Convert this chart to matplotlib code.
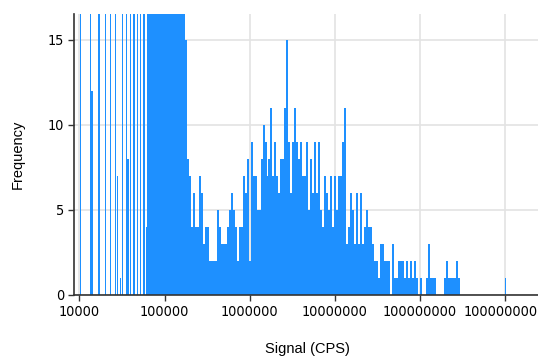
import numpy as np
import matplotlib
matplotlib.use('Agg')
import matplotlib.pyplot as plt
from matplotlib import font_manager

# sparse low-signal lines (CPS) and their counts; anything above ~16.5 runs off the top
line_cps = [10300, 13500, 14000, 17000, 20300, 23300, 26700, 27800, 30500, 31900,
            35900, 37200, 40000, 43800, 47900, 52500, 57400, 61100, 1020000000]
line_counts = [24, 31, 12, 27, 35, 22, 40, 7, 1, 29, 33, 8, 38, 45, 41, 52, 48, 4, 1]

# dense part: log-spaced bins, first edge at 10^4.79, each 0.0235 decade wide
bin_start = 4.79
bin_step = 0.0235
counts = [58, 66, 74, 81, 89, 95, 98, 97, 93, 86, 77, 66, 55, 45, 36, 29, 24, 20, 17,
          15, 8, 7, 4, 6, 4, 4, 7, 6, 3, 4, 4, 2, 2, 2, 2, 5, 4, 3, 3, 3,
          4, 5, 6, 5, 4, 2, 4, 4, 7, 6, 8, 2, 9, 7, 7, 5, 5, 8, 10, 9,
          7, 8, 11, 7, 9, 7, 6, 8, 8, 11, 15, 9, 6, 9, 11, 9, 8, 9, 7, 7,
          9, 5, 8, 6, 9, 6, 9, 5, 4, 7, 6, 5, 7, 4, 7, 5, 7, 7, 9, 11,
          3, 4, 6, 5, 3, 6, 3, 6, 3, 4, 5, 4, 4, 3, 2, 2, 1, 3, 3, 2,
          2, 2, 0, 3, 1, 1, 2, 2, 2, 1, 2, 1, 2, 1, 2, 1, 0, 1, 0, 0,
          1, 3, 1, 1, 1, 0, 0, 0, 0, 1, 2, 1, 1, 1, 1, 2, 1]

xticks = [1e4, 1e5, 1e6, 1e7, 1e8, 1e9]
xtick_labels = ['10000', '100000', '1000000', '10000000', '100000000', '1000000000']
yticks = [0, 5, 10, 15]

# tick labels in the reference use a tall narrow face; look for a condensed one
tick_prop = None
for key in ['LiberationSansNarrow-Regular', 'DejaVuSansCondensed.ttf',
            'RobotoCondensed-Regular', 'OpenSans_Condensed-Regular', 'NotoSans-Condensed']:
    for f in font_manager.fontManager.ttflist:
        if key in f.fname:
            tick_prop = font_manager.FontProperties(fname=f.fname, size=10.4)
            break
    if tick_prop is not None:
        break
if tick_prop is None:
    tick_prop = font_manager.FontProperties(family='Liberation Sans', size=10)

blue = '#1e90ff'

fig = plt.figure(figsize=(5.38, 3.57), dpi=100)
ax = fig.add_axes([74/538, 62/357, 466/538, 281/357])

edges = 10 ** (bin_start + bin_step * np.arange(len(counts) + 1))
ax.stairs(counts, edges, fill=True, color=blue, lw=0)

lc = np.array(line_cps, dtype=float)
ax.bar(lc, line_counts, width=lc * (10**0.014 - 1), color=blue, lw=0)

ax.set_xscale('log')
ax.set_xlim(10**3.9353, 10**9.4176)
ax.set_ylim(0, 16.5)

ax.set_xticks(xticks)
ax.set_xticklabels(xtick_labels, fontproperties=tick_prop)
ax.xaxis.set_minor_locator(matplotlib.ticker.NullLocator())
ax.set_yticks(yticks)
ax.set_yticklabels([str(v) for v in yticks], fontproperties=tick_prop)

ax.tick_params(axis='both', direction='out', length=4, width=1, color='#333333', pad=3)
ax.grid(color='#e3e3e3', lw=1.2)
ax.set_axisbelow(True)

for s in ['top', 'right']:
    ax.spines[s].set_visible(False)
for s in ['left', 'bottom']:
    ax.spines[s].set_color('#333333')
    ax.spines[s].set_linewidth(1.2)

fig.text(307/538, 1 - 349/357, 'Signal (CPS)', ha='center', va='center',
         family='Liberation Sans', fontsize=10.5)
fig.text(18/538, 1 - 154/357, 'Frequency', ha='center', va='center', rotation=90,
         family='Liberation Sans', fontsize=10.5)

fig.savefig('out.png', dpi=100)
